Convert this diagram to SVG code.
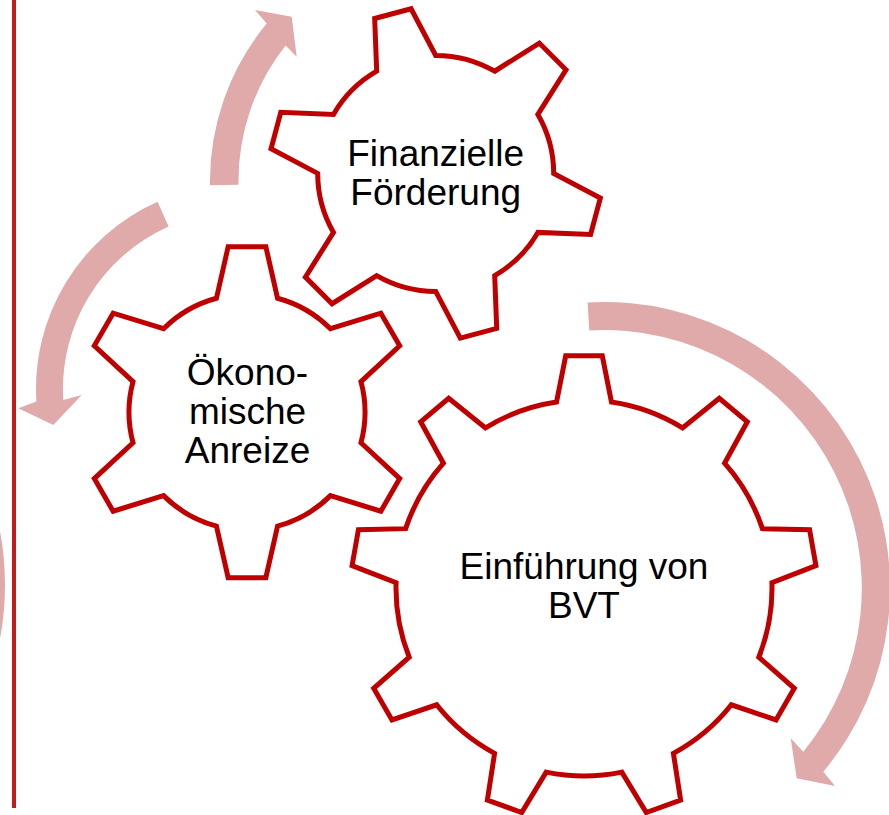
<svg xmlns="http://www.w3.org/2000/svg" xmlns:xlink="http://www.w3.org/1999/xlink" width="889" height="815" viewBox="0 0 889 815">
<style>
.gear{fill:#FFFFFF;stroke:#C00000;stroke-width:5;stroke-linejoin:miter}
.arrow{fill:#E0AAAA;stroke:none}
.lbl{font-family:"Liberation Sans",Arial,sans-serif;font-size:37px;fill:#000000;text-anchor:middle}
</style>
<defs>
<path id="gear6" d="M -30.54,-113.98 L -18.85,-165.43 L 18.85,-165.43 L 30.54,-113.98 A 118 118 0 0 1 83.44,-83.44 L 133.84,-99.04 L 152.69,-66.39 L 113.98,-30.54 A 118 118 0 0 1 113.98,30.54 L 152.69,66.39 L 133.84,99.04 L 83.44,83.44 A 118 118 0 0 1 30.54,113.98 L 18.85,165.43 L -18.85,165.43 L -30.54,113.98 A 118 118 0 0 1 -83.44,83.44 L -133.84,99.04 L -152.69,66.39 L -113.98,30.54 A 118 118 0 0 1 -113.98,-30.54 L -152.69,-66.39 L -133.84,-99.04 L -83.44,-83.44 A 118 118 0 0 1 -30.54,-113.98 Z"/>
<path id="gear9" d="M -27.46,-185.98 L -18.28,-232.28 L 18.28,-232.28 L 27.46,-185.98 A 188 188 0 0 1 98.51,-160.13 L 135.30,-189.69 L 163.31,-166.19 L 140.59,-124.82 A 188 188 0 0 1 178.39,-59.34 L 225.58,-58.34 L 231.93,-22.33 L 187.93,-5.25 A 188 188 0 0 1 174.80,69.21 L 210.30,100.31 L 192.02,131.97 L 147.33,116.78 A 188 188 0 0 1 89.42,165.37 L 96.62,212.02 L 62.27,224.53 L 37.80,184.16 A 188 188 0 0 1 -37.80,184.16 L -62.27,224.53 L -96.62,212.02 L -89.42,165.37 A 188 188 0 0 1 -147.33,116.78 L -192.02,131.97 L -210.30,100.31 L -174.80,69.21 A 188 188 0 0 1 -187.93,-5.25 L -231.93,-22.33 L -225.58,-58.34 L -178.39,-59.34 A 188 188 0 0 1 -140.59,-124.82 L -163.31,-166.19 L -135.30,-189.69 L -98.51,-160.13 A 188 188 0 0 1 -27.46,-185.98 Z"/>
</defs>
<rect x="0" y="0" width="889" height="815" fill="#FFFFFF"/>
<circle cx="-283.7" cy="585" r="274.7" fill="none" stroke="#E0AAAA" stroke-width="28"/>
<g id="connectors">
<path class="arrow" d="M 210.0,185.3 A 247 247 0 0 1 266.7,23.6 L 255,10 L 291.7,16.7 L 296.7,56.7 L 285.6,45.5 A 218.5 218.5 0 0 0 238.5,184.8 Z"/>
<path class="arrow" d="M 157.6,201.7 A 205 205 0 0 0 36.4,401.5 L 18.3,408.3 L 53.3,425 L 81.7,395 L 63.3,399.9 A 178 178 0 0 1 168.6,226.4 Z"/>
<path class="arrow" d="M 587.6,302.5 A 286 286 0 0 1 823.3,771.7 L 835,786 L 796.7,778.3 L 790.7,738.3 L 803.3,751.7 A 258 258 0 0 0 589.3,330.5 Z"/>
</g>
<g id="node-foerderung">
<use xlink:href="#gear6" href="#gear6" class="gear" transform="translate(435.7,173.4) rotate(-15)"/>
<text class="lbl" x="435.7" y="166">Finanzielle</text>
<text class="lbl" x="435.7" y="205">Förderung</text>
</g>
<g id="node-anreize">
<use xlink:href="#gear6" href="#gear6" class="gear" transform="translate(247,412.2)"/>
<text class="lbl" x="247.5" y="385">Ökono-</text>
<text class="lbl" x="247.5" y="424">mische</text>
<text class="lbl" x="247.5" y="463">Anreize</text>
</g>
<g id="node-bvt">
<use xlink:href="#gear9" href="#gear9" class="gear" transform="translate(584,588)"/>
<text class="lbl" x="584" y="579">Einführung von</text>
<text class="lbl" x="584" y="618">BVT</text>
</g>
<line x1="14" y1="0" x2="14" y2="808" stroke="#C41A1A" stroke-width="4"/>
</svg>
